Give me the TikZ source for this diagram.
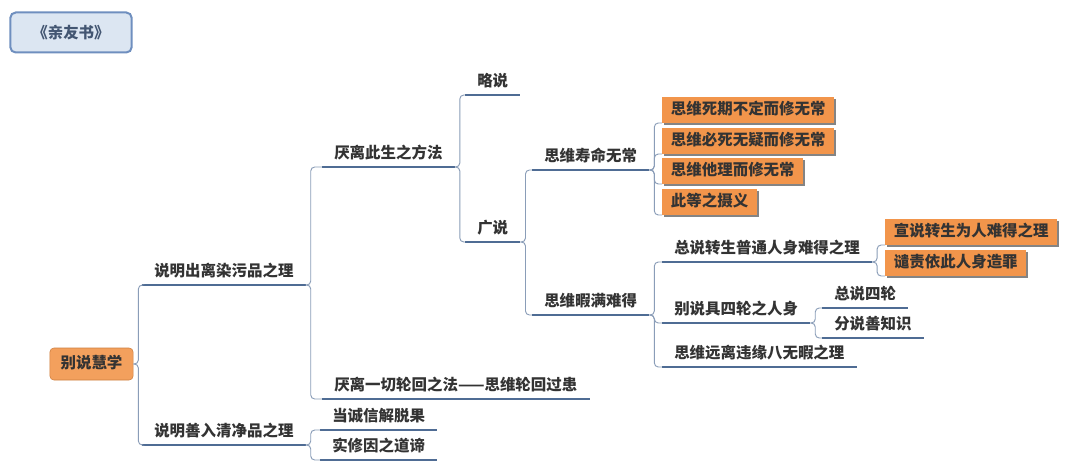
\documentclass[tikz,border=0pt]{standalone}
\usepackage{fontspec}
\setmainfont{Noto Sans CJK SC}
\usetikzlibrary{shadows}
\definecolor{linecol}{HTML}{4F6C94}
\definecolor{branchcol}{HTML}{8A9DB8}
\definecolor{boxorange}{HTML}{F2954B}
\definecolor{txtcol}{HTML}{333333}
\definecolor{titlefill}{HTML}{DCE6F2}
\definecolor{titleline}{HTML}{6F8FBF}
\tikzset{
topic/.style={anchor=south west, inner xsep=9pt, inner ysep=3.5pt, text height=9pt, text depth=2.5pt,
  font=\fontsize{11.6}{13}\selectfont\bfseries, text=txtcol},
hitbox/.style={anchor=south west, fill=boxorange, inner xsep=6.5pt, inner ysep=4pt, text height=9pt, text depth=2.5pt,
  font=\fontsize{11.6}{13}\selectfont\bfseries, text=txtcol,
  drop shadow={shadow xshift=1.5pt, shadow yshift=-1.5pt, fill=black!60, opacity=0.8}},
uline/.style={draw=linecol, line width=1.5pt},
branch/.style={draw=branchcol, line width=0.7pt, rounded corners=3pt, to path={-- ++(5,0) |- (\tikztotarget)}},
}

\begin{document}
\begin{tikzpicture}[x=0.75pt, y=-0.75pt]
\useasboundingbox[fill=white] (0,0) rectangle (1080,470);

\node[fill=titlefill, draw=titleline, line width=1.5pt, rounded corners=4pt, minimum width=91pt, minimum height=30pt,
  font=\fontsize{11.6}{13}\selectfont\bfseries, text=titleline!60!black] (title) at (71,32.5) {《亲友书》};

\node[fill=boxorange!90!white, draw=boxorange!85!black, line width=0.4pt, rounded corners=3pt, inner xsep=8pt, inner ysep=6.25pt,
  text height=9pt, text depth=2.5pt, font=\fontsize{11.6}{13}\selectfont\bfseries, text=txtcol] (root) at (91.5,364) {别说慧学};

% first level
\node[topic] (a) at (142,285) {说明出离染污品之理};
\node[topic] (b) at (142,445) {说明善入清净品之理};

% second level
\node[topic] (a1) at (322,167) {厌离此生之方法};
\node[topic] (a2) at (322,399) {厌离一切轮回之法——思维轮回过患};
\node[topic] (b1) at (320,430) {当诚信解脱果};
\node[topic] (b2) at (320,460) {实修因之道谛};

% third level
\node[topic] (a11) at (465,95) {略说};
\node[topic] (a12) at (465,242) {广说};

\node[topic] (a121) at (532,170) {思维寿命无常};
\node[topic] (a122) at (532,315) {思维暇满难得};

\node[hitbox] (x1) at (662,123) {思维死期不定而修无常};
\node[hitbox] (x2) at (662,154) {思维必死无疑而修无常};
\node[hitbox] (x3) at (662,184) {思维他理而修无常};
\node[hitbox] (x4) at (662,215) {此等之摄义};

\node[topic] (y1) at (662,262) {总说转生普通人身难得之理};
\node[topic] (y2) at (662,323) {别说具四轮之人身};
\node[topic] (y3) at (662,367) {思维远离违缘八无暇之理};

\node[hitbox] (y11) at (885,245) {宣说转生为人难得之理};
\node[hitbox] (y12) at (885,276) {谴责依此人身造罪};

\node[topic] (y21) at (822,308) {总说四轮};
\node[topic] (y22) at (822,338) {分说善知识};

\foreach \n in {a,b,a1,a2,b1,b2,a11,a12,a121,a122,y1,y2,y3,y21,y22}
  \draw[uline] (\n.south west) -- (\n.south east);

\draw[branch] (root.east) to (a.south west);
\draw[branch] (root.east) to (b.south west);
\draw[branch] (a.south east) to (a1.south west);
\draw[branch] (a.south east) to (a2.south west);
\draw[branch] (b.south east) to (b1.south west);
\draw[branch] (b.south east) to (b2.south west);
\draw[branch] (a1.south east) to (a11.south west);
\draw[branch] (a1.south east) to (a12.south west);
\draw[branch] (a12.south east) to (a121.south west);
\draw[branch] (a12.south east) to (a122.south west);
\foreach \n in {x1,x2,x3,x4}
  \draw[branch] (a121.south east) to (\n.south west);
\foreach \n in {y1,y2,y3}
  \draw[branch] (a122.south east) to (\n.south west);
\draw[branch] (y1.south east) to (y11.south west);
\draw[branch] (y1.south east) to (y12.south west);
\draw[branch] (y2.south east) to (y21.south west);
\draw[branch] (y2.south east) to (y22.south west);
\end{tikzpicture}
\end{document}
